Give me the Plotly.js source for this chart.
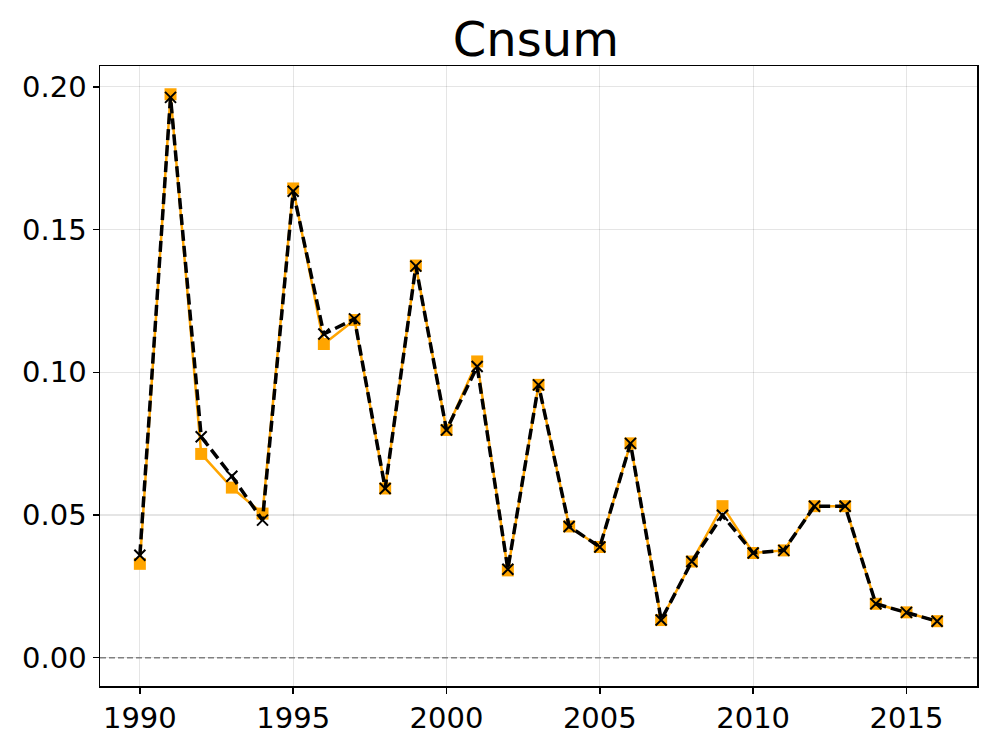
<!DOCTYPE html>
<html><head><meta charset="utf-8">
<script src="https://cdn.plot.ly/plotly-3.0.1.min.js"></script>
<style>body{margin:0;padding:0;background:#fff}#plot{width:996px;height:747px}</style>
</head><body><div id="plot"></div>
<script>
const years = [1990,1991,1992,1993,1994,1995,1996,1997,1998,1999,2000,2001,2002,2003,2004,2005,2006,2007,2008,2009,2010,2011,2012,2013,2014,2015,2016];
const seriesA = [0.0329,0.1974,0.0714,0.0596,0.0505,0.1644,0.1099,0.1183,0.0593,0.1374,0.0798,0.1038,0.0306,0.0956,0.0460,0.0388,0.0751,0.0132,0.0337,0.0531,0.0367,0.0376,0.0531,0.0531,0.0189,0.0159,0.0128];
const seriesB = [0.0359,0.1963,0.0774,0.0636,0.0482,0.1634,0.1134,0.1187,0.0593,0.1372,0.0798,0.1020,0.0310,0.0956,0.0460,0.0388,0.0751,0.0132,0.0337,0.0499,0.0367,0.0376,0.0531,0.0531,0.0189,0.0159,0.0128];
const xRange = [1988.7, 2017.3];
const yRange = [-0.0099, 0.2073];
const xTicks = [1990,1995,2000,2005,2010,2015];
const yTicks = [0,0.05,0.10,0.15,0.20];
const yTickText = ['0.00','0.05','0.10','0.15','0.20'];

const traces = [
  {x: years, y: seriesA, type:'scatter', mode:'lines+markers',
   line:{color:'#FFA500', width:2.5},
   marker:{symbol:'square', size:12, color:'#FFA500'}, showlegend:false},
  {x: years, y: seriesB, type:'scatter', mode:'lines+markers',
   line:{color:'#000000', width:3.5, dash:'11px,5px'},
   marker:{symbol:'x-thin', size:11, line:{color:'#000000', width:2}}, showlegend:false}
];
const layout = {
  width:996, height:747,
  margin:{l:100, r:19, t:66, b:61},
  paper_bgcolor:'#fff', plot_bgcolor:'#fff',
  font:{family:'DejaVu Sans', color:'#000', size:29},
  title:{text:'Cnsum', font:{size:48, family:'DejaVu Sans'}, x:0.538, xanchor:'center', y:0.947, yanchor:'middle'},
  xaxis:{range:xRange, tickvals:xTicks, ticks:'outside', ticklen:6, tickwidth:1.5, tickcolor:'#000',
    showgrid:true, gridcolor:'rgba(0,0,0,0.1)', gridwidth:1.2, zeroline:false,
    showline:true, linecolor:'#000', linewidth:1.5, mirror:true, tickfont:{size:29}},
  yaxis:{range:yRange, tickvals:yTicks, ticktext:yTickText, ticks:'outside', ticklen:6, tickwidth:1.5, tickcolor:'#000',
    showgrid:true, gridcolor:'rgba(0,0,0,0.1)', gridwidth:1.2, zeroline:false,
    showline:true, linecolor:'#000', linewidth:1.5, mirror:true, tickfont:{size:29}},
  shapes:[{type:'line', xref:'paper', x0:0, x1:1, yref:'y', y0:0, y1:0,
    line:{color:'#808080', width:1.5, dash:'6px,3px'}}]
};
Plotly.newPlot('plot', traces, layout, {displayModeBar:false, staticPlot:true});
</script></body></html>
